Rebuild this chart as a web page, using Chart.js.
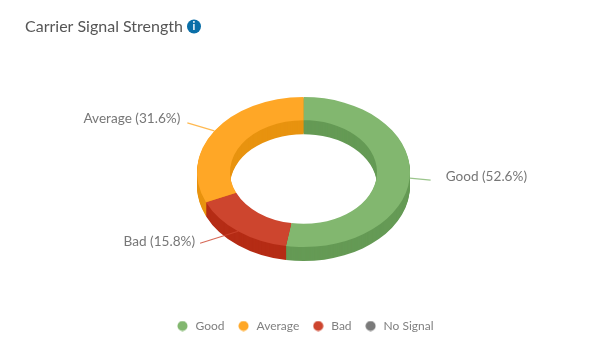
<!DOCTYPE html>
<html>
<head>
<meta charset="utf-8">
<script src="https://cdn.jsdelivr.net/npm/chart.js@4"></script>
<style>
  html, body { margin: 0; padding: 0; background: #fff; }
</style>
</head>
<body>
<canvas id="signal" width="594" height="360"></canvas>
<script>
const categories = ['Good', 'Bad', 'Average', 'No Signal'];
const counts = [10, 3, 6, 0];
const legendOrder = ['Good', 'Average', 'Bad', 'No Signal'];

const topColors = ['#82b76f', '#cd452e', '#ffa726', '#7a7a7a'];
const sideColors = ['#659a55', '#b52c15', '#e8930f', '#5f5f5f'];

const FONT = 'Lato, sans-serif';
const TEXT_GREY = '#808080';

// where the flattened ring sits on the page
const ring = { x: 303.5, y: 172, squash: 0.705, depth: 14 };

// leader line vector from the slice edge, then text offset from the line end
const leaders = {
  Good: { dx: 21, dy: 2, tx: 15, ty: -4, align: 'left' },
  Average: { dx: -27, dy: -8, tx: -7, ty: -4, align: 'right' },
  Bad: { dx: -38, dy: 12, tx: -5, ty: -2, align: 'right' }
};

function dot(color) {
  const c = document.createElement('canvas');
  c.width = 11;
  c.height = 11;
  const g = c.getContext('2d');
  g.fillStyle = color;
  g.beginPath();
  g.arc(5.5, 5.5, 5, 0, Math.PI * 2);
  g.fill();
  return c;
}

function placeRing(ctx, arc, shift) {
  ctx.translate(ring.x, ring.y + shift);
  ctx.scale(1, ring.squash);
  ctx.translate(-arc.x, -arc.y);
}

// flattens the doughnut into an ellipse and paints the walls underneath it
const ringPlugin = {
  id: 'ring',
  beforeDatasetsDraw(chart) {
    const ctx = chart.ctx;
    const arcs = chart.getDatasetMeta(0).data;
    for (let d = ring.depth; d > 0; d--) {
      arcs.forEach((arc, i) => {
        if (!counts[i]) return;
        ctx.save();
        placeRing(ctx, arc, d);
        ctx.fillStyle = sideColors[i];
        ctx.beginPath();
        ctx.arc(arc.x, arc.y, arc.outerRadius, arc.startAngle, arc.endAngle);
        ctx.arc(arc.x, arc.y, arc.innerRadius, arc.endAngle, arc.startAngle, true);
        ctx.closePath();
        ctx.fill();
        ctx.restore();
      });
    }
    ctx.save();
    placeRing(ctx, arcs[0], 0);
  },
  afterDatasetsDraw(chart) {
    chart.ctx.restore();
  },
  afterDraw(chart) {
    const ctx = chart.ctx;
    const total = counts.reduce((a, b) => a + b, 0);
    chart.getDatasetMeta(0).data.forEach((arc, i) => {
      const l = leaders[categories[i]];
      if (!l) return;
      const mid = (arc.startAngle + arc.endAngle) / 2;
      const ax = ring.x + Math.cos(mid) * arc.outerRadius;
      const ay = ring.y + Math.sin(mid) * arc.outerRadius * ring.squash;
      ctx.save();
      ctx.strokeStyle = topColors[i];
      ctx.globalAlpha = 0.8;
      ctx.lineWidth = 1.2;
      ctx.beginPath();
      ctx.moveTo(ax, ay);
      ctx.lineTo(ax + l.dx, ay + l.dy);
      ctx.stroke();
      ctx.globalAlpha = 1;
      ctx.fillStyle = '#777';
      ctx.font = '13.6px ' + FONT;
      ctx.textAlign = l.align;
      ctx.textBaseline = 'middle';
      const pct = (counts[i] / total * 100).toFixed(1);
      ctx.fillText(categories[i] + ' (' + pct + '%)', ax + l.dx + l.tx, ay + l.dy + l.ty);
      ctx.restore();
    });

    // info badge next to the title
    ctx.save();
    ctx.fillStyle = '#0a6fa8';
    ctx.beginPath();
    ctx.arc(194, 26.5, 7, 0, Math.PI * 2);
    ctx.fill();
    ctx.fillStyle = '#fff';
    ctx.font = 'bold 11px ' + FONT;
    ctx.textAlign = 'center';
    ctx.textBaseline = 'middle';
    ctx.fillText('i', 194, 26.5);
    ctx.restore();
  }
};

new Chart(document.getElementById('signal'), {
  type: 'doughnut',
  data: {
    labels: categories,
    datasets: [{
      data: counts,
      backgroundColor: topColors,
      borderWidth: 0,
      clip: false
    }]
  },
  options: {
    responsive: false,
    animation: false,
    radius: 106.5,
    cutout: '69%',
    layout: { padding: { left: 25, right: 10, top: 0, bottom: 18 } },
    plugins: {
      tooltip: { enabled: false },
      title: {
        display: true,
        text: 'Carrier Signal Strength',
        align: 'start',
        color: '#555',
        font: { family: FONT, size: 16, weight: 'normal' },
        padding: { top: 17, bottom: 10 }
      },
      legend: {
        position: 'bottom',
        labels: {
          color: TEXT_GREY,
          font: { family: FONT, size: 12 },
          usePointStyle: true,
          pointStyleWidth: 14,
          padding: 12,
          generateLabels: () => legendOrder.map(name => {
            const i = categories.indexOf(name);
            return {
              text: name,
              fillStyle: topColors[i],
              strokeStyle: topColors[i],
              fontColor: TEXT_GREY,
              lineWidth: 0,
              pointStyle: dot(topColors[i]),
              hidden: false,
              index: i
            };
          })
        }
      }
    }
  },
  plugins: [ringPlugin]
});
</script>
</body>
</html>
